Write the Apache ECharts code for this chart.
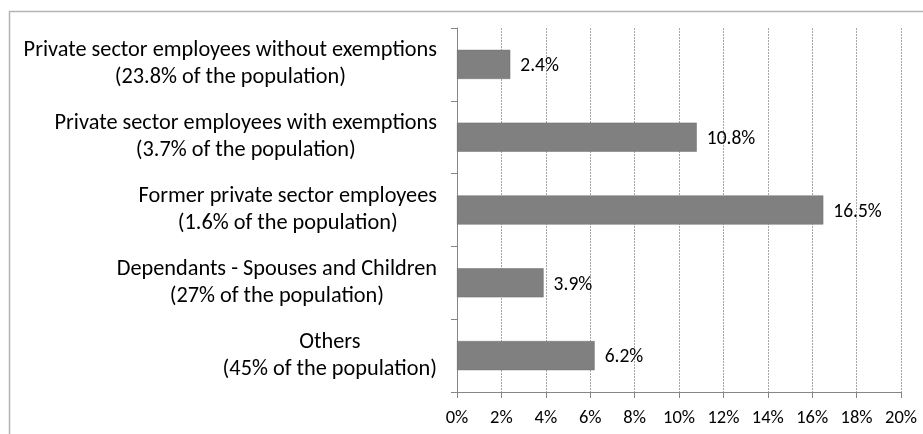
<!DOCTYPE html>
<html>
<head>
<meta charset="utf-8">
<script src="https://cdn.jsdelivr.net/npm/echarts@6/dist/echarts.min.js"></script>
<style>
html,body{margin:0;padding:0;background:#fff;}
#chart{width:923px;height:434px;}
</style>
</head>
<body>
<div id="chart"></div>
<script>
const categoryLine1 = [
  'Private sector employees without exemptions',
  'Private sector employees with exemptions',
  'Former private sector employees',
  'Dependants - Spouses and Children',
  'Others'
];
const categoryLine2 = [
  '(23.8% of the population)',
  '(3.7% of the population)',
  '(1.6% of the population)',
  '(27% of the population)',
  '(45% of the population)'
];
const shareValues = [2.4, 10.8, 16.5, 3.9, 6.2];
const xTicks = [0, 2, 4, 6, 8, 10, 12, 14, 16, 18, 20];

const FONT = 'Carlito, Calibri, "Open Sans", sans-serif';
const categories = categoryLine1.map((l, i) => l + '\n' + categoryLine2[i]);

const chart = echarts.init(document.getElementById('chart'), null, {renderer: 'canvas'});
chart.setOption({
  animation: false,
  backgroundColor: '#fff',
  graphic: [{
    type: 'rect',
    shape: {x: 9.5, y: 11.5, width: 1000, height: 1000},
    style: {fill: 'none', stroke: '#b4b4b4', lineWidth: 1.5},
    silent: true,
    z: -1
  }],
  grid: {left: 457, right: 22, top: 28, bottom: 42, containLabel: false},
  xAxis: {
    type: 'value',
    min: xTicks[0],
    max: xTicks[xTicks.length - 1],
    interval: 2,
    axisLine: {show: true, lineStyle: {color: '#868686', width: 1}},
    axisTick: {show: true, length: 6, lineStyle: {color: '#868686'}},
    axisLabel: {
      formatter: v => v + '%',
      fontFamily: FONT, fontSize: 18.5, color: '#000', margin: 17
    },
    splitLine: {show: true, lineStyle: {color: '#a6a6a6', type: [2, 1], width: 1}}
  },
  yAxis: {
    type: 'category',
    inverse: true,
    data: categories,
    axisLine: {show: true, lineStyle: {color: '#868686', width: 1}},
    axisTick: {show: true, length: 6, lineStyle: {color: '#868686'}},
    axisLabel: {
      fontFamily: FONT, fontSize: 22.3, color: '#000', margin: 20,
      align: 'right', lineHeight: 27,
      formatter: (v) => v.split('\n').map(s => '{c|' + s + '}').join('\n'),
      rich: {c: {align: 'center', fontFamily: FONT, fontSize: 22.3, lineHeight: 27, color: '#000'}}
    },
    splitLine: {show: false}
  },
  series: [{
    type: 'bar',
    data: shareValues,
    barWidth: '40%',
    itemStyle: {color: '#808080', borderColor: '#6e6e6e', borderWidth: 0.5},
    label: {
      show: true, position: 'right', distance: 10,
      formatter: p => p.value.toFixed(1) + '%',
      fontFamily: FONT, fontSize: 19.5, color: '#000', offset: [0, 2]
    }
  }]
});
</script>
</body>
</html>
